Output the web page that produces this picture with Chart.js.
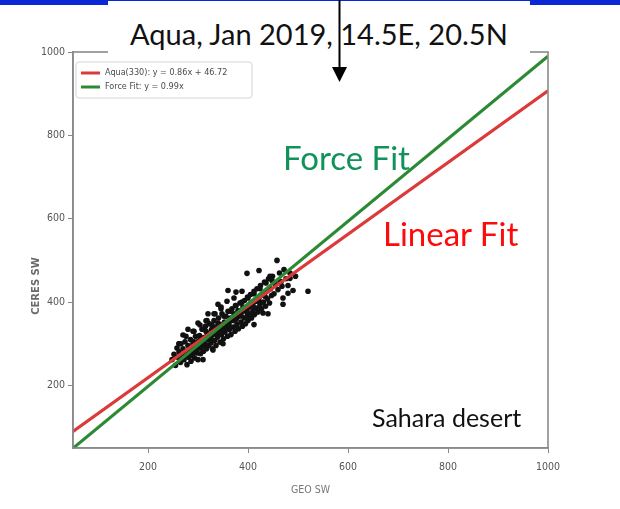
<!DOCTYPE html>
<html>
	<head>
		<meta charset="utf-8">
		<title>Aqua SW scatter</title>
		<script src="https://cdn.jsdelivr.net/npm/chart.js"></script>
		<style>
			body {
				margin: 0;
				width: 620px;
				height: 509px;
				background: #fff;
				position: relative;
				overflow: hidden;
				font-family: Lato, 'Open Sans', sans-serif;
			}

			#plot {
				position: absolute;
				left: 0;
				top: 0;
				filter: blur(0.6px);
			}

			.bar {
				position: absolute;
				top: 0;
				height: 5px;
				background: #0a28d8;
			}

			#titlebox {
				position: absolute;
				left: 108px;
				top: 1px;
				width: 422px;
				height: 59px;
				background: #fff;
			}

			.note {
				position: absolute;
				white-space: nowrap;
				line-height: 1;
			}

			#arrow {
				position: absolute;
				left: 0;
				top: 0;
			}
		</style>
	</head>
	<body>
		<canvas id="plot" width="620" height="509"></canvas>
		<div class="bar" style="left:0;width:620px;height:1px"></div>
		<div class="bar" style="left:0;width:108px"></div>
		<div class="bar" style="left:530px;width:90px"></div>
		<div id="titlebox"></div>
		<div class="note" style="left:130px;top:19px;font-size:29px;color:#111">Aqua, Jan 2019, 14.5E, 20.5N</div>
		<div class="note" style="left:283px;top:141px;font-size:33px;color:#12925a">Force Fit</div>
		<div class="note" style="left:383px;top:217px;font-size:33px;color:#ff0a0a">Linear Fit</div>
		<div class="note" style="left:372px;top:405px;font-size:25px;color:#111">Sahara desert</div>
		<svg id="arrow" width="620" height="100">
			<line x1="339.5" y1="0" x2="339.5" y2="70" stroke="#000" stroke-width="2"/>
			<polygon points="332,67 347,67 339.5,82" fill="#000"/>
		</svg>
		<script>
			// fitted lines: y = slope * x + intercept
			const fitLabels = ['Aqua(330): y = 0.86x + 46.72', 'Force Fit: y = 0.99x'];
			const fitSlopes = [0.86, 0.99];
			const fitIntercepts = [46.72, 0];
			const fitColors = ['#dc3a3a', '#2c8a34'];

			const axisMin = 50;
			const axisMax = 1000;
			const xTicks = [200, 400, 600, 800, 1000];
			const yTicks = [200, 400, 600, 800, 1000];

			// GEO SW (x) vs CERES SW (y) matched footprints
			const geoSW = [
				248, 252, 255, 258, 260, 262, 265, 266, 268, 270, 272, 274, 276, 278, 280, 281, 283, 285, 286, 288,
				290, 291, 293, 295, 296, 298, 299, 300, 280, 300, 270, 310, 302, 303, 305, 306, 308, 309, 311, 312,
				314, 315, 317, 318, 320, 321, 323, 324, 326, 327, 329, 330, 332, 333, 335, 336, 338, 339, 341, 342,
				344, 345, 347, 348, 350, 320, 340, 330, 350, 351, 353, 354, 356, 357, 359, 360, 362, 363, 365, 366,
				368, 369, 371, 372, 374, 375, 377, 378, 380, 381, 383, 384, 386, 387, 389, 390, 392, 393, 395, 396,
				398, 399, 400, 402, 403, 405, 407, 408, 410, 412, 413, 415, 417, 418, 420, 422, 424, 425, 427, 429,
				431, 433, 435, 437, 439, 441, 443, 445, 447, 449, 452, 455, 460, 463, 466, 470, 472, 476, 480, 484,
				490, 495, 398, 422, 444, 458, 480, 484, 430, 360, 376, 520, 468, 464, 412, 440, 470, 262, 292, 316,
				334, 346, 358, 372, 388, 285, 292, 298, 304, 310, 316, 322, 328, 334, 340, 346, 352, 358, 364, 370,
				376, 382, 388, 394, 400, 406, 412, 418, 424, 430, 436, 442, 448, 288, 296, 306, 314, 326, 338, 348,
				362, 374, 386, 398, 410, 422, 434, 262, 276, 290, 304, 318, 332, 346
			];
			const ceresSW = [
				262, 275, 248, 290, 268, 281, 255, 300, 272, 288, 262, 305, 279, 250, 296, 268, 284, 310, 258, 275,
				300, 286, 266, 318, 292, 278, 305, 262, 335, 350, 321, 262, 290, 320, 276, 305, 335, 296, 282, 315,
				300, 342, 288, 326, 310, 296, 348, 318, 302, 334, 288, 322, 356, 308, 340, 296, 328, 316, 362, 334,
				304, 346, 322, 372, 338, 372, 395, 285, 300, 312, 352, 328, 366, 340, 318, 378, 350, 334, 362, 322,
				384, 356, 340, 372, 330, 392, 360, 346, 380, 336, 366, 398, 352, 376, 342, 388, 362, 404, 348, 378,
				366, 412, 356, 388, 372, 418, 362, 396, 380, 426, 370, 402, 386, 432, 376, 410, 394, 440, 384, 418,
				400, 448, 390, 426, 408, 456, 398, 432, 416, 462, 420, 442, 430, 470, 448, 410, 478, 456, 440, 470,
				428, 462, 469, 476, 462, 500, 421, 457, 374, 428, 424, 426, 438, 450, 346, 372, 395, 300, 330, 355,
				372, 384, 402, 410, 426, 290, 305, 290, 315, 300, 330, 318, 345, 326, 350, 338, 366, 350, 378, 360,
				392, 372, 400, 384, 410, 398, 420, 404, 432, 418, 446, 430, 452, 272, 280, 290, 298, 312, 322, 332,
				344, 356, 368, 378, 392, 402, 414, 300, 318, 330, 345, 356, 372, 388
			];

			const points = geoSW.map((x, i) => ({ x: x, y: ceresSW[i] }));

			const datasets = fitLabels.map((label, i) => ({
				type: 'line',
				label: label,
				data: [axisMin, axisMax].map(x => ({ x: x, y: fitSlopes[i] * x + fitIntercepts[i] })),
				borderColor: fitColors[i],
				borderWidth: 3.2,
				pointRadius: 0,
				order: 1 - i
			}));
			datasets.push({
				type: 'scatter',
				label: 'obs',
				data: points,
				backgroundColor: '#111',
				borderWidth: 0,
				pointRadius: 2.8,
				order: 5
			});

			// legend box inside the plot + outer frame + rotated y title
			const decorations = {
				id: 'decorations',
				afterDraw(chart) {
					const ctx = chart.ctx;
					const a = chart.chartArea;
					ctx.save();
					ctx.strokeStyle = '#8a8a8a';
					ctx.lineWidth = 1.6;
					ctx.strokeRect(a.left, a.top, a.right - a.left, a.bottom - a.top);

					ctx.fillStyle = 'rgba(255,255,255,0.9)';
					ctx.strokeStyle = '#d4d4d4';
					ctx.lineWidth = 1;
					ctx.beginPath();
					ctx.roundRect(a.left + 3, a.top + 10, 176, 36, 3);
					ctx.fill();
					ctx.stroke();

					ctx.font = '9px "DejaVu Sans Condensed", "Liberation Sans Narrow", sans-serif';
					ctx.textBaseline = 'middle';
					fitLabels.forEach((label, i) => {
						const y = a.top + 21 + i * 14;
						ctx.strokeStyle = fitColors[i];
						ctx.lineWidth = 3;
						ctx.beginPath();
						ctx.moveTo(a.left + 8, y);
						ctx.lineTo(a.left + 27, y);
						ctx.stroke();
						ctx.fillStyle = '#4a4a4a';
						ctx.fillText(label, a.left + 32, y);
					});

					ctx.translate(36, 286);
					ctx.rotate(-Math.PI / 2);
					ctx.font = 'bold 10px "DejaVu Sans", sans-serif';
					ctx.textAlign = 'center';
					ctx.fillStyle = '#6a6a6a';
					ctx.fillText('CERES SW', 0, 0);
					ctx.restore();
				}
			};

			const tickFont = { family: '"DejaVu Sans Condensed", "Liberation Sans Narrow", sans-serif', size: 10.5 };
			const plainNumber = v => String(v);

			new Chart(document.getElementById('plot'), {
				type: 'scatter',
				data: { datasets: datasets },
				plugins: [decorations],
				options: {
					responsive: false,
					animation: false,
					devicePixelRatio: 1,
					layout: { padding: { left: 0, top: 52, right: 72, bottom: 0 } },
					plugins: {
						legend: { display: false },
						tooltip: { enabled: false }
					},
					scales: {
						x: {
							type: 'linear',
							min: axisMin,
							max: axisMax,
							afterBuildTicks: scale => { scale.ticks = xTicks.map(v => ({ value: v })); },
							afterFit: scale => { scale.height = 61; },
							grid: { drawOnChartArea: false, tickLength: 5, color: '#888' },
							border: { color: '#8a8a8a', width: 1.6 },
							ticks: { color: '#555', font: tickFont, padding: 8, maxRotation: 0, callback: plainNumber },
							title: { display: true, text: 'GEO SW', color: '#777', font: { family: '"DejaVu Sans Condensed", sans-serif', size: 10.5 }, padding: { top: 0, bottom: 12 } }
						},
						y: {
							type: 'linear',
							min: axisMin,
							max: axisMax,
							afterBuildTicks: scale => { scale.ticks = yTicks.map(v => ({ value: v })); },
							afterFit: scale => { scale.width = 73; },
							grid: { drawOnChartArea: false, tickLength: 5, color: '#888' },
							border: { color: '#8a8a8a', width: 1.6 },
							ticks: { color: '#555', font: tickFont, padding: 3, callback: plainNumber }
						}
					}
				}
			});
		</script>
	</body>
</html>
